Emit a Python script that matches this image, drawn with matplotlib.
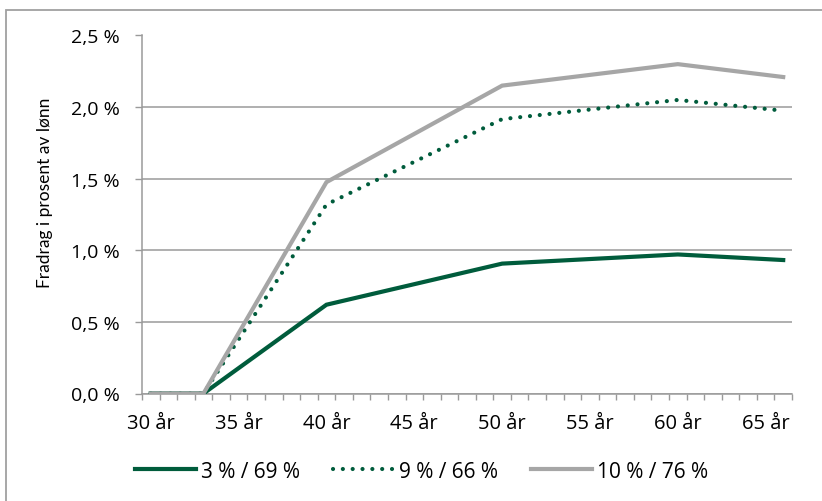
import matplotlib
matplotlib.use("Agg")
import matplotlib.pyplot as plt
from matplotlib.patches import Rectangle
from matplotlib.ticker import FuncFormatter, FixedLocator

plt.rcParams['font.family'] = ['Open Sans', 'DejaVu Sans']

# Alder (år) og fradrag i prosent av lønn for tre ordninger
ages = [30, 33, 40, 50, 60, 66]
series_labels = ["3 % / 69 %", "9 % / 66 %", "10 % / 76 %"]
s1 = [0.0, 0.0, 0.62, 0.907, 0.971, 0.932]
s2 = [0.0, 0.0, 1.32, 1.916, 2.05, 1.975]
s3 = [0.0, 0.0, 1.476, 2.15, 2.30, 2.21]
xtick_ages = [30, 35, 40, 45, 50, 55, 60, 65]
yticks = [0.0, 0.5, 1.0, 1.5, 2.0, 2.5]

GREEN = "#005C3C"
GREY = "#A6A6A6"
GRID = "#9A9A9A"

fig = plt.figure(figsize=(8.22, 5.02), dpi=100)
W, H = 822, 502
ax = fig.add_axes([142 / W, 1 - 394.5 / H, (792 - 142) / W, (394.5 - 36.5) / H])

# outer chart frame
fig.patches.append(Rectangle((6 / W, -0.1), 1.2, 1 - 11 / H + 0.1, transform=fig.transFigure,
                             fill=False, edgecolor="#A0A0A0", lw=1.3))

ax.plot(ages, s1, color=GREEN, lw=3.0, solid_joinstyle="miter", label=series_labels[0], zorder=3)
ax.plot(ages, s2, color=GREEN, lw=3.0, linestyle=(0, (0.01, 2.35)), dash_capstyle="round",
        label=series_labels[1], zorder=3)
ax.plot(ages, s3, color=GREY, lw=3.0, solid_joinstyle="miter", label=series_labels[2], zorder=3)

ax.set_xlim(29.5, 66.5)
ax.set_ylim(0, 2.5)
ax.set_yticks(yticks)
ax.yaxis.set_major_formatter(FuncFormatter(lambda v, p: f"{v:.1f} %".replace(".", ",")))
ax.set_xticks(xtick_ages)
ax.set_xticklabels([f"{a} år" for a in xtick_ages])
ax.xaxis.set_minor_locator(FixedLocator([29.5 + k for k in range(38)]))

ax.tick_params(axis="x", which="major", length=0, pad=14, labelsize=14.5, colors="black")
ax.tick_params(axis="x", which="minor", length=4.5, width=1, color=GRID, direction="out")
ax.tick_params(axis="y", which="major", length=5, width=1, color=GRID, pad=11,
               labelsize=14)

ax.grid(axis="y", color=GRID, lw=1.1)
ax.set_axisbelow(True)
for side in ("top", "right"):
    ax.spines[side].set_visible(False)
for side in ("left", "bottom"):
    ax.spines[side].set_color(GRID)
    ax.spines[side].set_linewidth(1.1)

fig.text(45 / W, 1 - 193 / H, "Fradrag i prosent av lønn", rotation=90,
         ha="center", va="center", fontsize=12.5, family=['Lato', 'DejaVu Sans'])

leg = fig.legend(loc="center", bbox_to_anchor=(421.5 / W, 1 - 472 / H), ncol=3, frameon=False,
                 fontsize=15, handlelength=2.9, handletextpad=0.25, columnspacing=1.6)

fig.savefig("out.png", dpi=100)
